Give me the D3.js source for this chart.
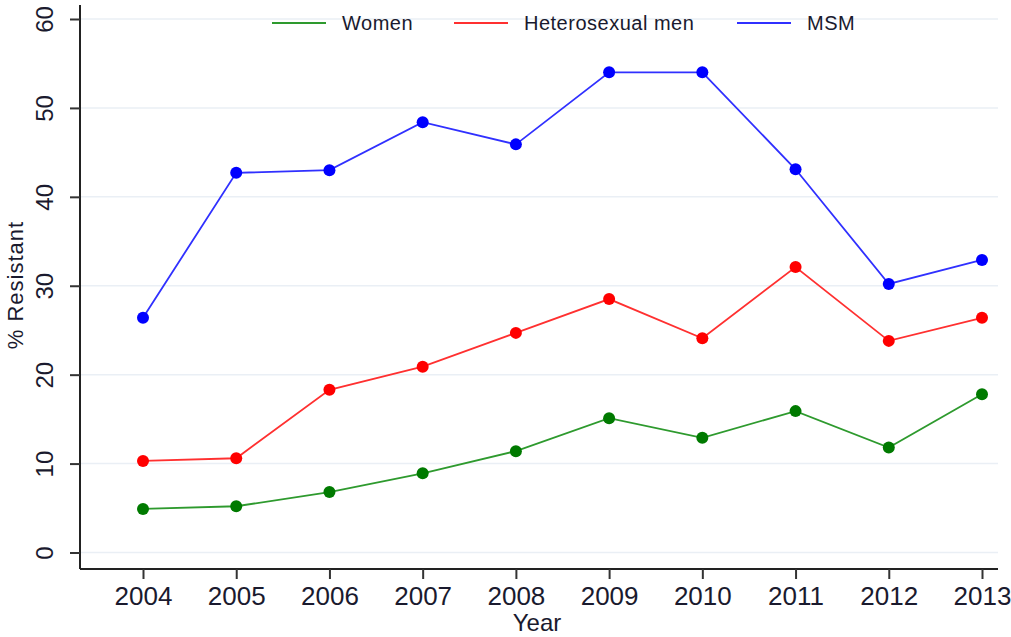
<!DOCTYPE html>
<html>
<head>
<meta charset="utf-8">
<script src="https://cdn.jsdelivr.net/npm/d3@7"></script>
<style>
	body { margin: 0; background: #fff; }
	text { font-family: "Liberation Sans", Arial, sans-serif; fill: #1a1a2e; }
</style>
</head>
<body>
<svg id="chart" width="1011" height="637"></svg>
<script>
var years = [2004, 2005, 2006, 2007, 2008, 2009, 2010, 2011, 2012, 2013];
var women = [4.9, 5.2, 6.8, 8.9, 11.4, 15.1, 12.9, 15.9, 11.8, 17.8];
var hetero = [10.3, 10.6, 18.3, 20.9, 24.7, 28.5, 24.1, 32.1, 23.8, 26.4];
var msm = [26.4, 42.7, 43.0, 48.4, 45.9, 54.0, 54.0, 43.1, 30.2, 32.9];
var yTicks = [0, 10, 20, 30, 40, 50, 60];

var series = [
	{ 'n': 'Women', 'v': women, 'line': '#2e9a2e', 'dot': '#007a00' },
	{ 'n': 'Heterosexual men', 'v': hetero, 'line': '#ff3030', 'dot': '#ff0000' },
	{ 'n': 'MSM', 'v': msm, 'line': '#3030ff', 'dot': '#0000ff' }
];

var svg = d3.select("#chart");
var plotLeft = 80, plotRight = 998, plotTop = 19, plotBottom = 552.5, axisY = 569;

var x = d3.scalePoint().domain(years).range([143, 982]);
var y = d3.scaleLinear().domain([0, 60]).range([plotBottom, plotTop]);

// gridlines
svg.append("g")
	.selectAll("line")
	.data(yTicks)
	.enter().append("line")
	.attr("x1", plotLeft).attr("x2", plotRight)
	.attr("y1", function(d) { return y(d); })
	.attr("y2", function(d) { return y(d); })
	.attr("stroke", "#eaeff5")
	.attr("stroke-width", 1.5);

// y axis
var yAxis = svg.append("g")
	.attr("transform", "translate(" + plotLeft + ",0)")
	.call(d3.axisLeft(y).tickValues(yTicks).tickSize(10).tickPadding(0));
yAxis.select(".domain").attr("d", "M0,5V" + axisY).attr("stroke", "#222").attr("stroke-width", 2);
yAxis.selectAll(".tick line").attr("stroke", "#333").attr("stroke-width", 2);
yAxis.selectAll(".tick text")
	.attr("x", 0)
	.attr("transform", "translate(-35,0) rotate(-90)")
	.attr("text-anchor", "middle")
	.attr("dy", "0.35em")
	.style("font-size", "24px")
	.style("font-family", "Liberation Sans, Arial, sans-serif")
	.attr("fill", "#1a1a2e");

// x axis
var xAxis = svg.append("g")
	.attr("transform", "translate(0," + axisY + ")")
	.call(d3.axisBottom(x).tickSize(10).tickPadding(8));
xAxis.select(".domain").attr("d", "M" + plotLeft + ",0H" + plotRight).attr("stroke", "#222").attr("stroke-width", 2);
xAxis.selectAll(".tick line").attr("stroke", "#333").attr("stroke-width", 2);
xAxis.selectAll(".tick text")
	.style("font-size", "26px")
	.style("font-family", "Liberation Sans, Arial, sans-serif")
	.attr("fill", "#1a1a2e");

// axis titles
svg.append("text")
	.attr("x", 537).attr("y", 631)
	.attr("text-anchor", "middle")
	.style("font-size", "24px")
	.text("Year");

svg.append("text")
	.attr("transform", "translate(23,285) rotate(-90)")
	.attr("text-anchor", "middle")
	.style("font-size", "22px")
	.style("letter-spacing", "1px")
	.text("% Resistant");

// lines and markers
var line = d3.line()
	.x(function(d, i) { return x(years[i]); })
	.y(function(d) { return y(d); });

series.forEach(function(s) {
	svg.append("path")
		.datum(s.v)
		.attr("fill", "none")
		.attr("stroke", s.line)
		.attr("stroke-width", 1.8)
		.attr("d", line);

	svg.append("g")
		.selectAll("circle")
		.data(s.v)
		.enter().append("circle")
		.attr("cx", function(d, i) { return x(years[i]); })
		.attr("cy", function(d) { return y(d); })
		.attr("r", 6)
		.attr("fill", s.dot);
});

// legend
var legendX = [272, 454, 737];
var legend = svg.append("g")
	.selectAll("g")
	.data(series)
	.enter().append("g")
	.attr("transform", function(d, i) { return "translate(" + legendX[i] + ",23)"; });
legend.append("line")
	.attr("x1", 0).attr("x2", 54)
	.attr("stroke", function(d) { return d.line; })
	.attr("stroke-width", 2.2);
legend.append("text")
	.attr("x", 70).attr("dy", "0.35em")
	.style("font-size", "20px")
	.style("letter-spacing", "0.5px")
	.text(function(d) { return d.n; });
</script>
</body>
</html>
